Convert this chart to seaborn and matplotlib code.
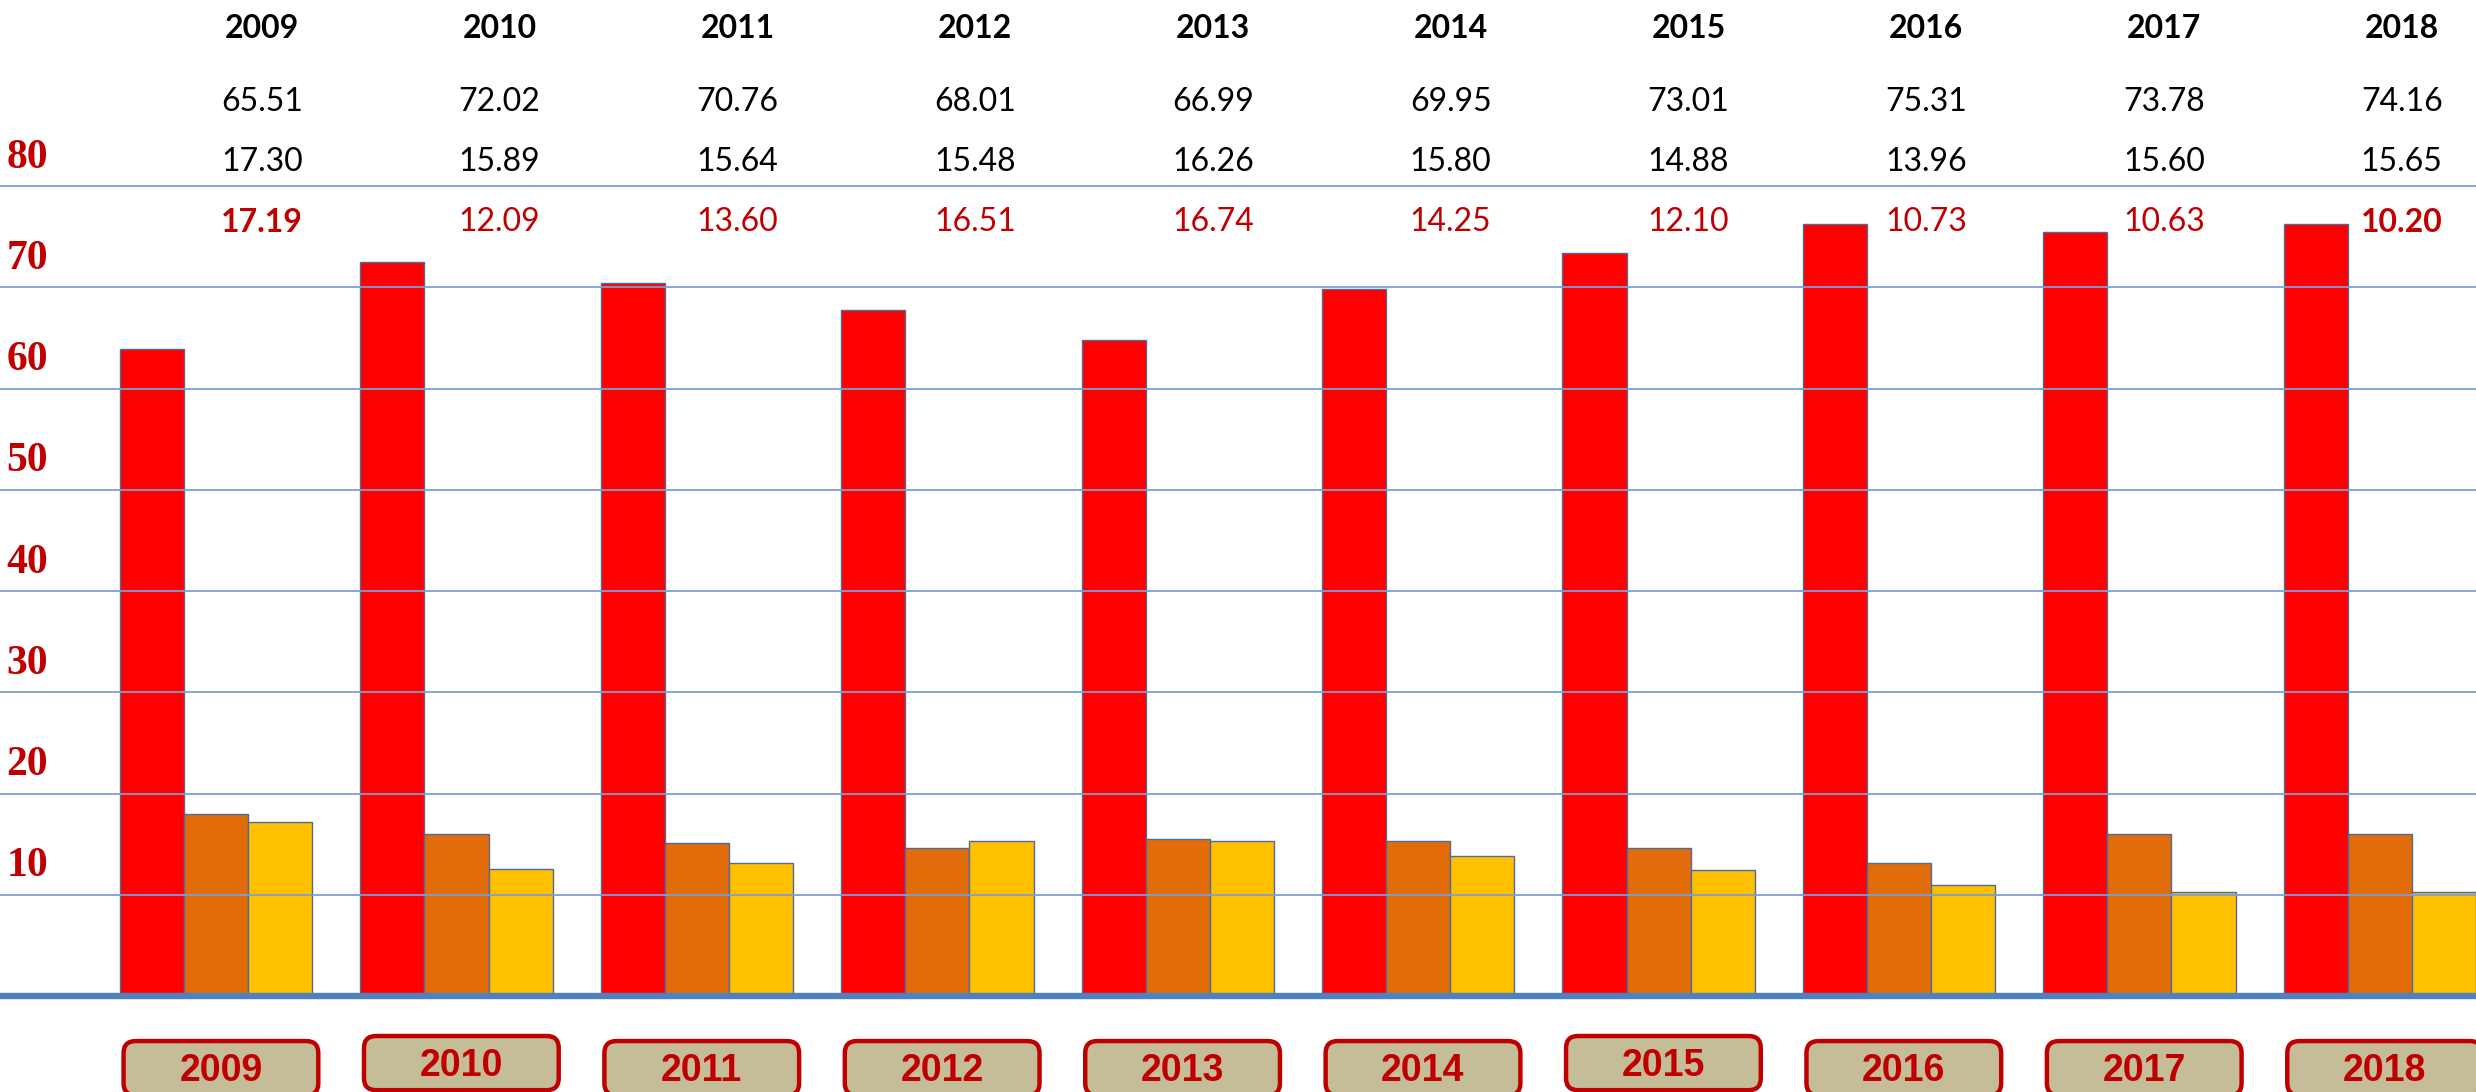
import numpy as np
import pandas as pd
import matplotlib
matplotlib.use("Agg")
import matplotlib.pyplot as plt
from matplotlib import font_manager
from matplotlib.patches import FancyBboxPatch
import seaborn as sns

# data
years = ['2009', '2010', '2011', '2012', '2013', '2014', '2015', '2016', '2017', '2018']
red_vals = [63.9, 72.5, 70.4, 67.8, 64.8, 69.8, 73.4, 76.2, 75.5, 76.2]
orange_vals = [18.0, 16.0, 15.1, 14.6, 15.5, 15.3, 14.6, 13.1, 16.0, 16.0]
yellow_vals = [17.2, 12.5, 13.1, 15.3, 15.3, 13.8, 12.4, 11.0, 10.3, 10.3]

# table printed above the bars
row1 = ['65.51', '72.02', '70.76', '68.01', '66.99', '69.95', '73.01', '75.31', '73.78', '74.16']
row2 = ['17.30', '15.89', '15.64', '15.48', '16.26', '15.80', '14.88', '13.96', '15.60', '15.65']
row3 = ['17.19', '12.09', '13.60', '16.51', '16.74', '14.25', '12.10', '10.73', '10.63', '10.20']
row3_bold = ['2009', '2018']
raised_boxes = ['2010', '2015']

y_ticks = [10, 20, 30, 40, 50, 60, 70, 80]

series = ['s1', 's2', 's3']
colors = ['#FF0000', '#E36C0A', '#FFC000']


def main():
    df = pd.DataFrame({
        'year': years * 3,
        'series': np.repeat(series, len(years)),
        'value': red_vals + orange_vals + yellow_vals,
    })

    sns.set_style("white")
    names = {f.name for f in font_manager.fontManager.ttflist}
    narrow = 'Liberation Sans Narrow' if 'Liberation Sans Narrow' in names else None
    table_font = 'Lato' if 'Lato' in names else 'Open Sans'

    fig = plt.figure(figsize=(24.76, 10.92), dpi=100)
    ax = fig.add_axes([0, 0, 1, 1])

    sns.barplot(data=df, x='year', y='value', hue='series', hue_order=series,
                palette=colors, saturation=1, width=0.8, errorbar=None,
                edgecolor='#4F6B9A', linewidth=1.0, legend=False, ax=ax)

    ax.set_xlim(-0.899, 9.40)
    ax.set_ylim(-9.48, 98.37)
    for s in ax.spines.values():
        s.set_visible(False)
    ax.set_yticks(y_ticks)
    ax.tick_params(length=0, labelleft=False, labelbottom=False)
    ax.set_xlabel('')
    ax.set_ylabel('')
    ax.set_axisbelow(False)
    ax.yaxis.grid(True, color='#7F9ED2', linewidth=1.3)
    ax.xaxis.grid(False)
    ax.axhline(0, color='#4F81BD', linewidth=4.6, zorder=6)

    # left value labels, sitting above their grid lines
    for v in y_ticks:
        ax.text(0.011, v + 2.8, str(v), transform=ax.get_yaxis_transform(),
                ha='center', va='center', fontsize=30, fontweight='bold',
                color='#C00000', family='Liberation Serif')

    # table at the top
    for i, yr in enumerate(years):
        tx = 0.19 + 0.989 * i
        ax.text(tx, 95.6, yr, ha='center', va='center', fontsize=23,
                fontweight='bold', color='black', family=table_font)
        ax.text(tx, 88.3, row1[i], ha='center', va='center', fontsize=23,
                color='black', family=table_font)
        ax.text(tx, 82.4, row2[i], ha='center', va='center', fontsize=23,
                color='black', family=table_font)
        ax.text(tx, 76.4, row3[i], ha='center', va='center', fontsize=23,
                fontweight='bold' if yr in row3_bold else 'normal',
                color='#C00000', family=table_font)

    # year boxes under the axis
    box_w = 0.81
    box_h = 5.35
    aspect = (2476 / 10.299) / (1092 / 107.85)
    for i, yr in enumerate(years):
        top = -3.95 if yr in raised_boxes else -4.45
        cx = i + 0.02
        box = FancyBboxPatch((cx - box_w / 2, top - box_h), box_w, box_h,
                             boxstyle='round,pad=0,rounding_size=0.05',
                             mutation_aspect=aspect,
                             facecolor='#C4BD97', edgecolor='#C00000',
                             linewidth=3.2, clip_on=False, zorder=7)
        ax.add_patch(box)
        if narrow:
            ax.text(cx, top - box_h / 2 - 0.3, yr, ha='center', va='center',
                    fontsize=32, fontweight='bold', color='#C00000',
                    family=narrow, zorder=8)
        else:
            ax.text(cx, top - box_h / 2 - 0.3, yr, ha='center', va='center',
                    fontsize=27, fontweight='bold', color='#C00000',
                    family='Liberation Sans', zorder=8)

    fig.savefig('out.png', dpi=100)
    plt.close(fig)


if __name__ == "__main__":
    main()
